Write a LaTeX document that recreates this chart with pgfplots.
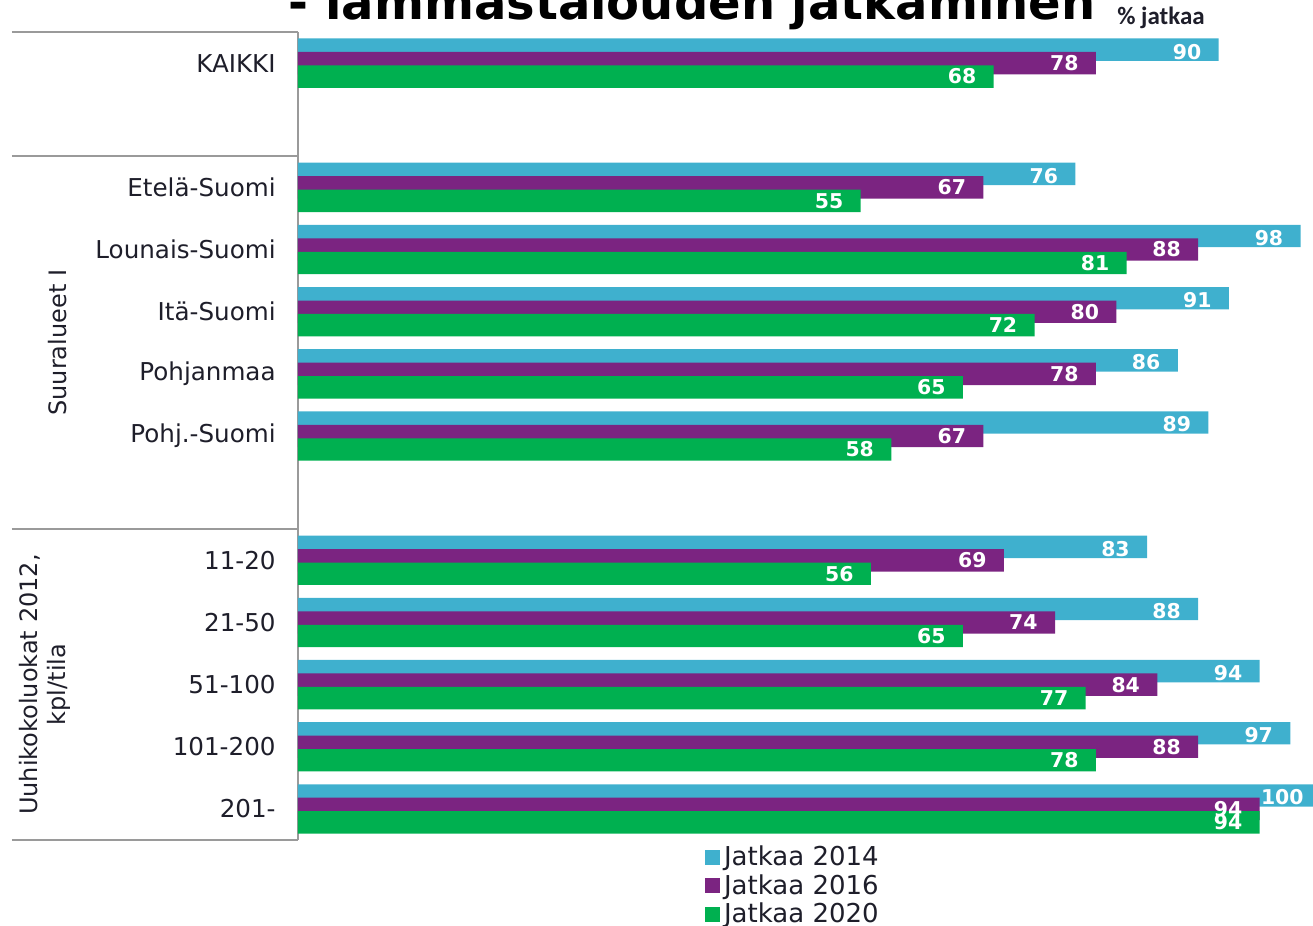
\documentclass[border=0pt]{standalone}
\usepackage{pgfplots}
\usepackage{pgfplotstable}
\pgfplotsset{compat=1.18}
\usepackage{fontspec}
\setmainfont{DejaVu Sans}
\newfontfamily\carlito{Carlito}
\definecolor{ccyan}{HTML}{3FB0CE}
\definecolor{cpurple}{HTML}{7B2481}
\definecolor{cgreen}{HTML}{00B050}
\definecolor{linecol}{HTML}{9A9A9A}
\definecolor{txt}{HTML}{1E1E2A}
\pgfplotstableread{
y a b c
0 90 78 68
2 76 67 55
3 98 88 81
4 91 80 72
5 86 78 65
6 89 67 58
8 83 69 56
9 88 74 65
10 94 84 77
11 97 88 78
12 100 94 94
}\data
\begin{document}
\begin{tikzpicture}
\begin{axis}[
  at={(0,0)}, anchor=south west,
  scale only axis, width=511.5pt, height=404pt,
  xmin=0, xmax=100, ymin=-0.5, ymax=12.5,
  y dir=reverse,
  xbar, bar width=0.36,
  clip=false,
  /pgf/number format/assume math mode=true,
  axis x line=none,
  axis y line*=left,
  y axis line style={draw=linecol, line width=1pt, -},
  ytick={0,2,3,4,5,6,8,9,10,11,12},
  yticklabels={KAIKKI,Etelä-Suomi,Lounais-Suomi,Itä-Suomi,Pohjanmaa,Pohj.-Suomi,11-20,21-50,51-100,101-200,201-},
  major tick length=0pt,
  ytick style={draw=none},
  yticklabel style={font=\fontsize{12.3}{14}\selectfont, text=txt, inner sep=0pt, xshift=-11pt},
  legend style={at={(0.392,-0.034)}, anchor=north west, yshift=14pt, draw=none, fill=none,
     font=\fontsize{13}{15}\selectfont, text=txt, row sep=0.9pt,
     nodes={inner xsep=1.8pt, inner ysep=1pt}},
  legend cell align=left,
  legend image code/.code={\path[#1,draw=none] (0pt,-3.8pt) rectangle (7.5pt,3.8pt);},
  every node near coord/.append style={anchor=east, text=white, inner sep=0pt, xshift=-8.5pt,
     font=\bfseries\fontsize{10.2}{12}\selectfont},
]
\addplot[fill=ccyan, draw=none, bar shift=-0.217] table[x=a,y=y] {\data};
\addplot[fill=cpurple, draw=none, bar shift=0] table[x=b,y=y] {\data};
\addplot[fill=cgreen, draw=none, bar shift=0.217] table[x=c,y=y] {\data};
\legend{Jatkaa 2014,Jatkaa 2016,Jatkaa 2020}
% value labels on top
\addplot[draw=none, fill=none, bar shift=-0.217, forget plot, nodes near coords, point meta=x,
   every node near coord/.append style={yshift=-1pt}] table[x=a,y=y] {\data};
\addplot[draw=none, fill=none, bar shift=0, forget plot, nodes near coords, point meta=x] table[x=b,y=y] {\data};
\addplot[draw=none, fill=none, bar shift=0.217, forget plot, nodes near coords, point meta=x] table[x=c,y=y] {\data};
% frame lines of the category table
\foreach \yy in {-0.5,1.5,7.5,12.5}{
  \edef\temp{\noexpand\draw[linecol, line width=1pt] ([xshift=-143pt]axis cs:0,\yy) -- (axis cs:0,\yy);}
  \temp
}
\node[rotate=90, font=\fontsize{12}{14}\selectfont, text=txt] at ([xshift=-120pt]axis cs:0,4.5) {Suuralueet I};
\node[rotate=90, align=center, font=\fontsize{12}{14}\selectfont, text=txt] at ([xshift=-126.5pt]axis cs:0,10) {Uuhikokoluokat 2012,\\kpl/tila};
\end{axis}
\node[anchor=base, font=\bfseries\fontsize{24}{28}\selectfont, text=black] at (197pt,410pt) {- lammastalouden jatkaminen};
\node[anchor=base, font=\carlito\bfseries\fontsize{12.5}{14}\selectfont, text=txt] at (431.5pt,407.5pt) {\% jatkaa};
\pgfresetboundingbox
\path[use as bounding box] (-149pt,-43pt) rectangle (507.5pt,420pt);
\end{tikzpicture}
\end{document}
